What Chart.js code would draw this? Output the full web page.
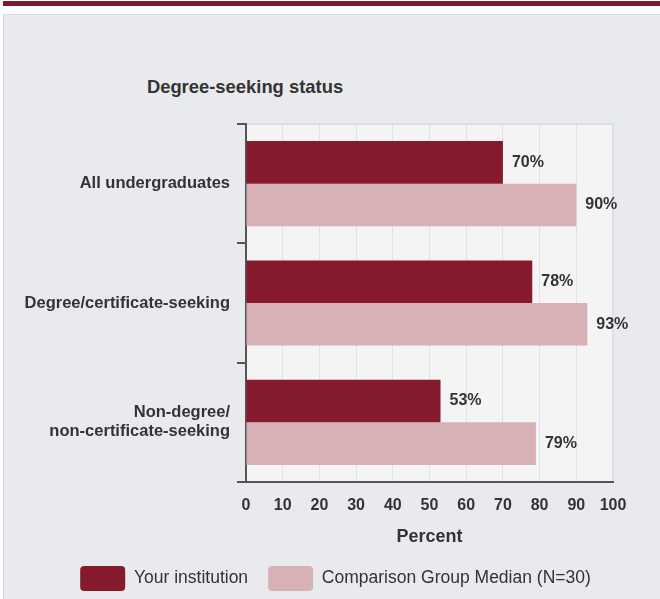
<!DOCTYPE html>
<html>
<head>
<meta charset="utf-8">
<script src="https://cdn.jsdelivr.net/npm/chart.js@4.4.0/dist/chart.umd.min.js"></script>
<style>
    html, body {
        margin: 0;
        padding: 0;
        background: #ffffff;
    }
    #wrap {
        position: relative;
        width: 660px;
        height: 599px;
        overflow: hidden;
    }
    #topbar {
        position: absolute;
        left: 3px;
        top: 1px;
        width: 657px;
        height: 5px;
        background: #7b1a2e;
    }
    #panel {
        position: absolute;
        left: 3px;
        top: 14px;
        width: 660px;
        height: 600px;
        background: #e9eaee;
        border-left: 1px solid #d2d3d6;
        border-top: 1px solid #d8d9dc;
    }
    #title {
        position: absolute;
        left: 95px;
        width: 300px;
        top: 76px;
        text-align: center;
        font: bold 18.4px "Liberation Sans", Arial, sans-serif;
        color: #333333;
    }
    #chart-box {
        position: absolute;
        left: 0;
        top: 0;
        width: 660px;
        height: 601px;
    }
</style>
</head>
<body>
<div id="wrap">
    <div id="topbar"></div>
    <div id="panel"></div>
    <div id="title">Degree-seeking status</div>
    <div id="chart-box"><canvas id="degree-status"></canvas></div>
</div>
<script>
const categories = [
    "All undergraduates",
    "Degree/certificate-seeking",
    ["Non-degree/", "non-certificate-seeking"]
];
const yourInstitution = [70, 78, 53];
const comparisonMedian = [90, 93, 79];
const seriesNames = ["Your institution", "Comparison Group Median (N=30)"];

const darkColor = "#841a2c";
const lightColor = "#d8b1b7";
const textColor = "#333333";
const fontFamily = "'Liberation Sans', Arial, sans-serif";

// plot area background + light frame
const plotBackground = {
    id: "plotBackground",
    beforeDraw(chart) {
        const {ctx, chartArea} = chart;
        ctx.save();
        ctx.fillStyle = "#f4f4f5";
        ctx.fillRect(chartArea.left, chartArea.top, chartArea.width, chartArea.height);
        ctx.strokeStyle = "#dcdfe8";
        ctx.lineWidth = 2;
        ctx.strokeRect(chartArea.left, chartArea.top, chartArea.width, chartArea.height);
        ctx.restore();
    }
};

// percent labels at bar ends
const barValueLabels = {
    id: "barValueLabels",
    afterDatasetsDraw(chart) {
        const ctx = chart.ctx;
        ctx.save();
        ctx.font = "bold 16px " + fontFamily;
        ctx.fillStyle = textColor;
        ctx.textAlign = "left";
        ctx.textBaseline = "middle";
        chart.data.datasets.forEach((dataset, i) => {
            chart.getDatasetMeta(i).data.forEach((bar, j) => {
                ctx.fillText(dataset.data[j] + "%", bar.x + 9, bar.y);
            });
        });
        ctx.restore();
    }
};

// legend sits a bit right of the canvas centre in the original
const legendShift = {
    id: "legendShift",
    afterLayout(chart) {
        chart.legend.left += 29;
        chart.legend.right += 29;
    }
};

let ctx = document.getElementById("degree-status").getContext("2d");

let chartDegreeStatus = new Chart(ctx, {
    type: "bar",
    data: {
        labels: categories,
        datasets: [
            {
                label: seriesNames[0],
                data: yourInstitution,
                backgroundColor: darkColor,
                borderWidth: 0
            },
            {
                label: seriesNames[1],
                data: comparisonMedian,
                backgroundColor: lightColor,
                borderWidth: 0
            }
        ]
    },
    options: {
        indexAxis: "y",
        responsive: true,
        maintainAspectRatio: false,
        animation: false,
        categoryPercentage: 0.713,
        barPercentage: 1,
        layout: {
            padding: {top: 124, right: 47, bottom: 0, left: 0}
        },
        scales: {
            x: {
                min: 0,
                max: 100,
                afterFit: (scale) => {
                    scale.height = 64;
                },
                ticks: {
                    stepSize: 10,
                    padding: 14,
                    color: textColor,
                    font: {family: fontFamily, size: 16, weight: "bold"}
                },
                grid: {
                    color: "#dde1ec",
                    drawTicks: false
                },
                border: {
                    color: "#555555",
                    width: 2
                },
                title: {
                    display: true,
                    text: "Percent",
                    color: textColor,
                    padding: {top: 12, bottom: -2},
                    font: {family: fontFamily, size: 18, weight: "bold"}
                }
            },
            y: {
                afterFit: (scale) => {
                    scale.width = 246;
                },
                ticks: {
                    padding: 7,
                    color: textColor,
                    font: {family: fontFamily, size: 16.5, weight: "bold", lineHeight: 1.15}
                },
                grid: {
                    drawOnChartArea: false,
                    tickLength: 9,
                    color: "#555555",
                    lineWidth: 2
                },
                border: {
                    color: "#555555",
                    width: 2
                }
            }
        },
        plugins: {
            legend: {
                position: "bottom",
                labels: {
                    boxWidth: 45,
                    boxHeight: 25,
                    padding: 20,
                    useBorderRadius: true,
                    borderRadius: 4,
                    color: textColor,
                    font: {family: fontFamily, size: 17.5}
                }
            },
            tooltip: {enabled: false}
        }
    },
    plugins: [plotBackground, barValueLabels, legendShift]
});
</script>
</body>
</html>
